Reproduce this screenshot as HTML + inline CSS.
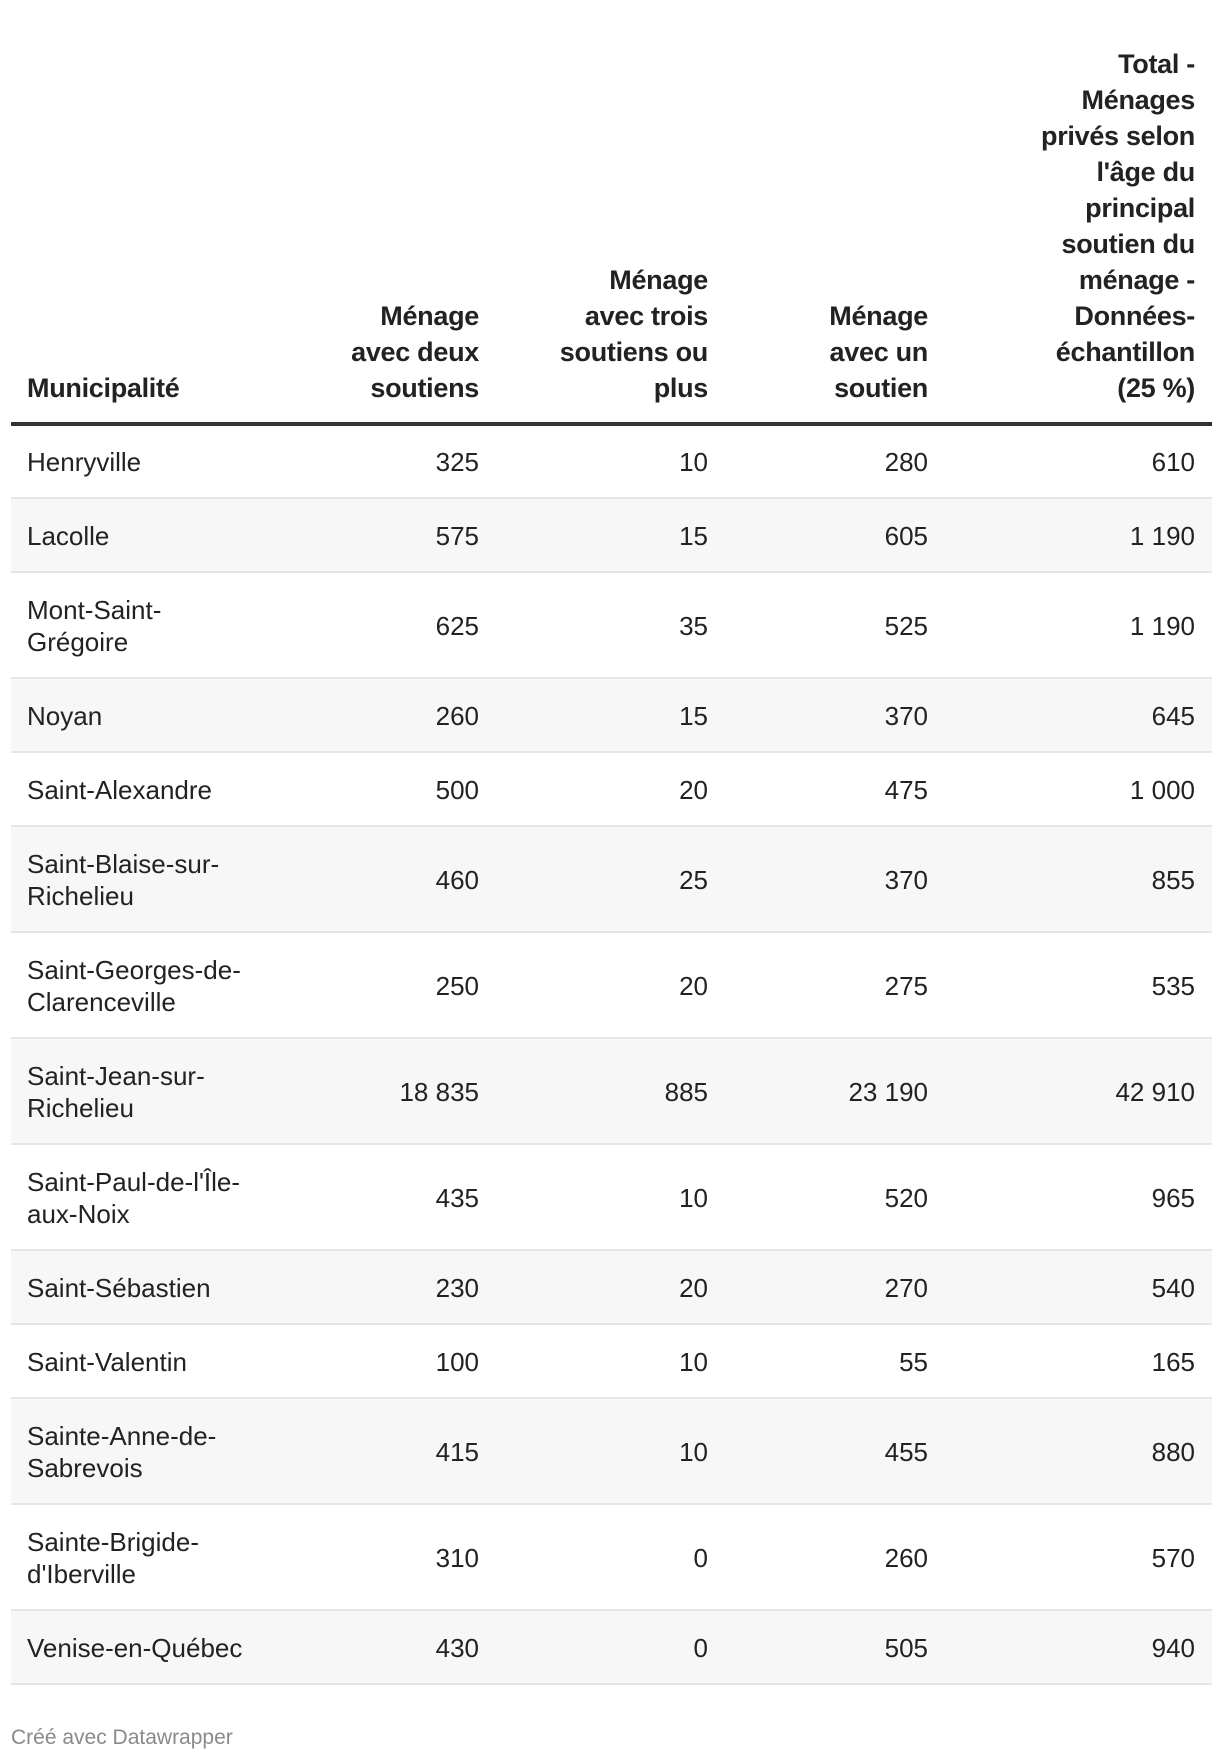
<!DOCTYPE html>
<html><head><meta charset="utf-8">
<style>
html,body{margin:0;padding:0;background:#fff;width:1220px;height:1760px;overflow:hidden}
body{font-family:"Liberation Sans",sans-serif;color:#222;position:relative}
table{position:absolute;left:11px;top:0;width:1201px;border-collapse:collapse;table-layout:fixed}
th{font-weight:bold;font-size:27px;line-height:36px;text-align:right;vertical-align:bottom;padding:46px 17px 16px 16px;border-bottom:4px solid #333;letter-spacing:-0.3px}
th.name{text-align:left}
td{font-size:26px;line-height:32.5px;text-align:right;vertical-align:middle;padding:2px 17px 0 16px;border-bottom:2px solid #e6e6e6;box-sizing:border-box}
td.name{text-align:left}
tr.alt td{background:#f7f7f7}
#footer{position:absolute;left:11px;top:1726px;font-size:21px;color:#8a8a8a}
</style></head><body>
<table>
<colgroup><col style="width:289px"><col style="width:196px"><col style="width:229px"><col style="width:220px"><col style="width:267px"></colgroup>
<thead><tr>
<th class="name">Municipalité</th>
<th>Ménage<br>avec deux<br>soutiens</th>
<th>Ménage<br>avec trois<br>soutiens ou<br>plus</th>
<th>Ménage<br>avec un<br>soutien</th>
<th>Total -<br>Ménages<br>privés selon<br>l'âge du<br>principal<br>soutien du<br>ménage -<br>Données-<br>échantillon<br>(25 %)</th>
</tr></thead>
<tbody id="tb"></tbody>
</table>
<div id="footer">Créé avec Datawrapper</div>
<script>
const municipalities=["Henryville","Lacolle","Mont-Saint-<br>Grégoire","Noyan","Saint-Alexandre","Saint-Blaise-sur-<br>Richelieu","Saint-Georges-de-<br>Clarenceville","Saint-Jean-sur-<br>Richelieu","Saint-Paul-de-l'Île-<br>aux-Noix","Saint-Sébastien","Saint-Valentin","Sainte-Anne-de-<br>Sabrevois","Sainte-Brigide-<br>d'Iberville","Venise-en-Québec"];
const twoEarners=["325","575","625","260","500","460","250","18 835","435","230","100","415","310","430"];
const threeEarners=["10","15","35","15","20","25","20","885","10","20","10","10","0","0"];
const oneEarner=["280","605","525","370","475","370","275","23 190","520","270","55","455","260","505"];
const totals=["610","1 190","1 190","645","1 000","855","535","42 910","965","540","165","880","570","940"];
const tb=document.getElementById('tb');
municipalities.forEach((m,i)=>{
  const tr=document.createElement('tr');
  
  
  if(i%2===1)tr.className='alt';
  const h=m.indexOf('<br>')>=0?106:74;
  const vals=[m,twoEarners[i],threeEarners[i],oneEarner[i],totals[i]];
  const names=['municipality-cell','two-earners-cell','three-earners-cell','one-earner-cell','total-cell'];
  vals.forEach((v,j)=>{
    const td=document.createElement('td');
    
    
    if(j===0)td.className='name';
    td.style.height=h+'px';
    td.innerHTML=v;
    tr.appendChild(td);
  });
  tb.appendChild(tr);
});
</script>
</body></html>
